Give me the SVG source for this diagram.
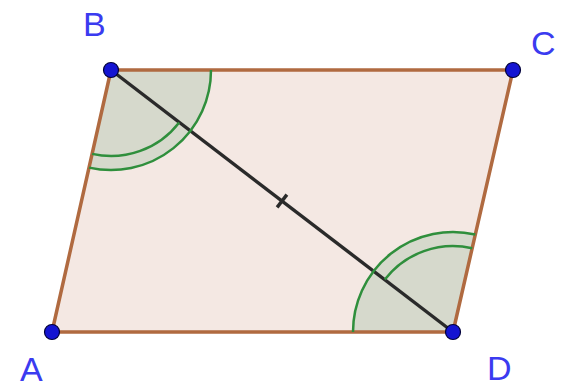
<svg xmlns="http://www.w3.org/2000/svg" width="563" height="387" viewBox="0 0 563 387">
<style>
.edge{stroke:#b06a40;stroke-width:3.5;fill:none;stroke-linecap:round}
.sector{fill:#d6d9cc;stroke:none}
.arc{fill:none;stroke:#2f8f3c;stroke-width:2.5}
.diag{stroke:#2a2a2a;stroke-width:3.4;fill:none}
.pt{fill:#1414d2;stroke:#00003a;stroke-width:1.2}
.lbl{font-family:"Liberation Sans",Arial,sans-serif;font-size:34px;fill:#3b3bf0}
</style>
<rect width="563" height="387" fill="#ffffff"/>
<g id="shape">
<polygon points="111,70 513,70 453,332 52,332" fill="#f4e8e3"/>
<path class="sector" d="M111,70 L211,70 A100,100 0 0 1 89,167.6 Z"/>
<path class="sector" d="M453,332 L353,332 A100,100 0 0 1 475.3,234.5 Z"/>
</g>
<g id="connectors">
<line id="AB" class="edge" x1="52" y1="332" x2="111" y2="70"/>
<line id="BC" class="edge" x1="111" y1="70" x2="513" y2="70"/>
<line id="CD" class="edge" x1="513" y1="70" x2="453" y2="332"/>
<line id="DA" class="edge" x1="453" y1="332" x2="52" y2="332"/>
<line id="BD" class="diag" x1="111" y1="70" x2="453" y2="332"/>
<line id="tick" class="diag" stroke-width="2.5" x1="277.1" y1="207.4" x2="286.9" y2="194.6"/>
</g>
<g id="angleB">
<path class="arc" d="M211,70 A100,100 0 0 1 89,167.6"/>
<path class="arc" d="M179.2,122.4 A86,86 0 0 1 92.1,153.9"/>
</g>
<g id="angleD">
<path class="arc" d="M353,332 A100,100 0 0 1 475.3,234.5"/>
<path class="arc" d="M384.8,279.6 A86,86 0 0 1 472.2,248.2"/>
</g>
<g id="A"><circle class="pt" cx="52" cy="332" r="7.5"/><text class="lbl" x="20" y="381">A</text></g>
<g id="B"><circle class="pt" cx="111" cy="70" r="7.5"/><text class="lbl" x="83" y="36">B</text></g>
<g id="C"><circle class="pt" cx="513" cy="70" r="7.5"/><text class="lbl" x="531" y="55">C</text></g>
<g id="D"><circle class="pt" cx="453" cy="332" r="7.5"/><text class="lbl" x="487" y="380">D</text></g>
</svg>
